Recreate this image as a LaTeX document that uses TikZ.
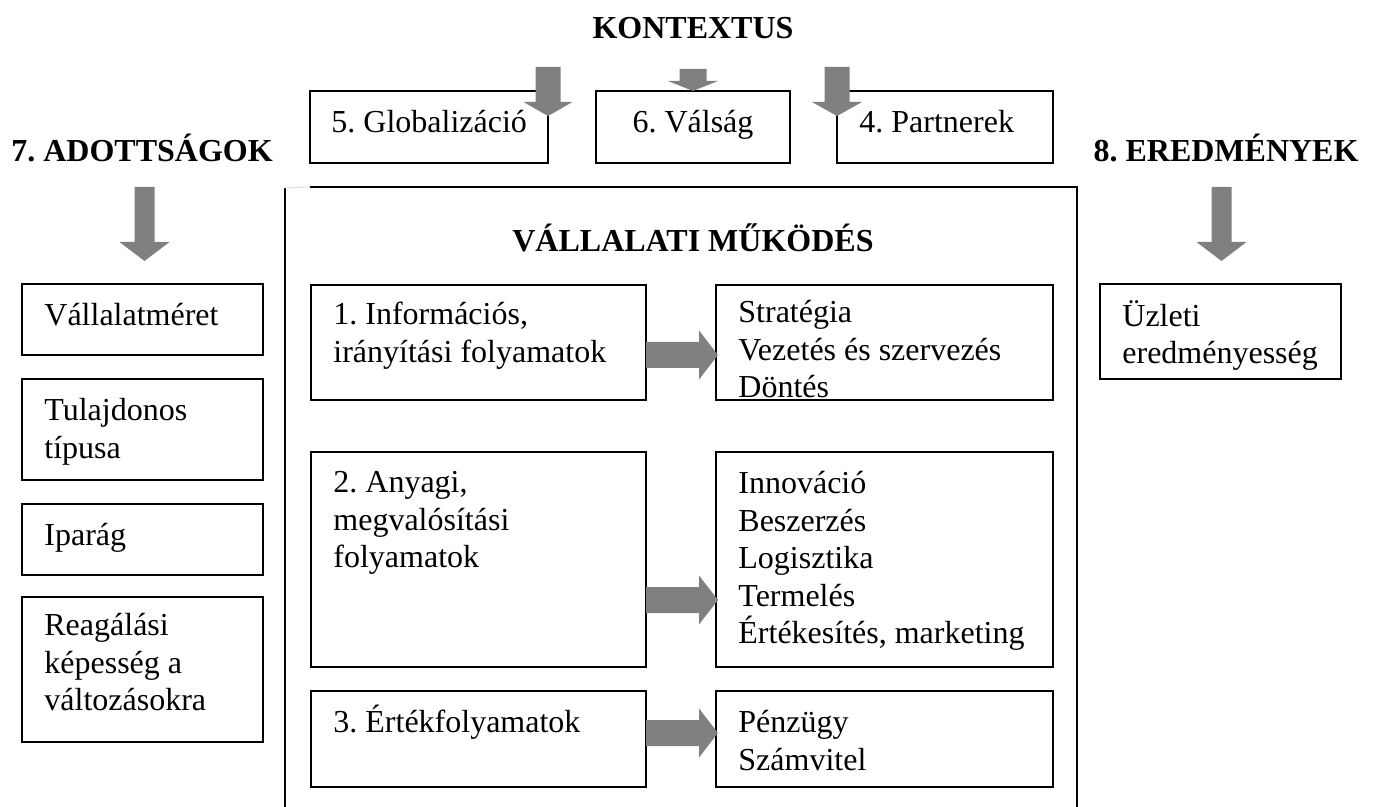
\documentclass[tikz,border=0pt]{standalone}
\usepackage{fontspec}
\setmainfont{Liberation Serif}
\frenchspacing
\usetikzlibrary{positioning, calc}
\newcommand{\tstrut}{\rule{0pt}{14pt}}
\tikzset{%
	box/.style={draw, rectangle, line width=0.8pt, inner sep=0pt, outer sep=0pt, anchor=north west},
	boxtext/.style={anchor=north west, inner sep=0pt, align=left, font=\fontsize{16}{18.75}\selectfont,
		execute at begin node=\tstrut},
	head/.style={anchor=base, inner sep=0pt, font=\fontsize{16}{18.75}\selectfont\bfseries},
	fat/.style={fill=gray, draw=none},
	frame/.style={line width=0.8pt}
}
% fat arrow pointing down: tip, length, shaft half width, head half width, head length
\newcommand{\downfat}[5]{%
	\fill[fat] (#1) -- ++(#4,-#5) -- ++({#3-#4},0) -- ++(0,{#5-#2}) -- ++({-2*#3},0)
		-- ++(0,{#2-#5}) -- ++({#3-#4},0) -- cycle;}
% fat arrow pointing right: tail, length, shaft half width, head half width, head length
\newcommand{\rightfat}[5]{%
	\fill[fat] (#1) ++(0,-#3) -- ++({#2-#5},0) -- ++(0,{#3-#4}) -- ++(#5,#4) -- ++(-#5,#4)
		-- ++(0,{#3-#4}) -- ++({#5-#2},0) -- cycle;}

\begin{document}
\begin{tikzpicture}[x=0.5pt, y=-0.5pt]
	\useasboundingbox (0,0) rectangle (1375,807);

	% headings
	\node[head] (kontextus) at (693,39) {KONTEXTUS};
	\node[head] (adott) at (142,162) {7. ADOTTSÁGOK};
	\node[head] (eredm) at (1226,162) {8. EREDMÉNYEK};
	\node[head] (mukodes) at (693,252) {VÁLLALATI MŰKÖDÉS};

	% context
	\node[box, minimum width=119pt, minimum height=36pt] (glob) at (310,91) {};
	\node[box, minimum width=97pt, minimum height=36pt, right=24pt of glob] (valsag) {};
	\node[box, minimum width=108pt, minimum height=36pt, right=23.5pt of valsag] (partner) {};
	\node[boxtext] (glob-t) at ([shift={(21,13)}]glob.north west) {5. Globalizáció};
	\node[boxtext, anchor=north] (valsag-t) at ([shift={(0,13)}]valsag.north) {6. Válság};
	\node[boxtext] (partner-t) at ([shift={(22,13)}]partner.north west) {4. Partnerek};

	% givens
	\node[box, minimum width=120.5pt, minimum height=35.5pt] (meret) at (22,284) {};
	\node[box, minimum width=120.5pt, minimum height=50.5pt, below=12pt of meret.south west, anchor=north west] (tulaj) {};
	\node[box, minimum width=120.5pt, minimum height=35.5pt, below=12pt of tulaj.south west, anchor=north west] (iparag) {};
	\node[box, minimum width=120.5pt, minimum height=72.5pt, below=11pt of iparag.south west, anchor=north west] (reag) {};
	\node[boxtext] (meret-t) at ([shift={(22,13)}]meret.north west) {Vállalatméret};
	\node[boxtext] (tulaj-t) at ([shift={(22,19)}]tulaj.north west) {Tulajdonos\\típusa};
	\node[boxtext] (iparag-t) at ([shift={(22,13)}]iparag.north west) {Iparág};
	\node[boxtext] (reag-t) at ([shift={(22,16)}]reag.north west) {Reagálási\\képesség a\\változásokra};

	% results
	\node[box, minimum width=120.5pt, minimum height=47.5pt] (uzleti) at (1100,284) {};
	\node[boxtext] (uzleti-t) at ([shift={(22,16)}]uzleti.north west) {Üzleti\\eredményesség};

	% operation
	\coordinate (fr-lb) at (285,807);
	\coordinate (fr-lt) at (285,188);
	\coordinate (fr-tl) at (310,187);
	\coordinate (fr-rt) at (1077,187);
	\coordinate (fr-rb) at (1077,807);
	\draw[frame] (fr-lb) -- (fr-lt);
	\draw[gray!25, line width=0.5pt] (fr-lt) -- (fr-tl);
	\draw[frame] (fr-tl) -- (fr-rt) -- (fr-rb);

	\node[box, minimum width=167.5pt, minimum height=57.5pt] (info) at (311,285) {};
	\node[box, minimum width=167.5pt, minimum height=107.5pt, below=26pt of info.south west, anchor=north west] (anyagi) {};
	\node[box, minimum width=167.5pt, minimum height=48pt, below=12pt of anyagi.south west, anchor=north west] (ertek) {};
	\node[box, minimum width=168.5pt, minimum height=57.5pt, right=35pt of info.north east, anchor=north west] (strat) {};
	\node[box, minimum width=168.5pt, minimum height=107.5pt, right=35pt of anyagi.north east, anchor=north west] (innov) {};
	\node[box, minimum width=168.5pt, minimum height=48pt, right=35pt of ertek.north east, anchor=north west] (penz) {};

	\node[boxtext] (info-t) at ([shift={(22,17)}]info.north west) {1. Információs,\\irányítási folyamatok};
	\node[boxtext] (anyagi-t) at ([shift={(22,19)}]anyagi.north west) {2. Anyagi,\\megvalósítási\\folyamatok};
	\node[boxtext] (ertek-t) at ([shift={(22,13)}]ertek.north west) {3. Értékfolyamatok};
	\node[boxtext] (strat-t) at ([shift={(22,15)}]strat.north west) {Stratégia\\Vezetés és szervezés\\Döntés};
	\node[boxtext] (innov-t) at ([shift={(22,19)}]innov.north west) {Innováció\\Beszerzés\\Logisztika\\Termelés\\Értékesítés, marketing};
	\node[boxtext] (penz-t) at ([shift={(22,19)}]penz.north west) {Pénzügy\\Számvitel};

	% arrows
	\downfat{[shift={(0,25)}]glob.north east}{49}{12.5}{24.5}{14}
	\downfat{valsag.north}{22}{13.5}{25}{10}
	\downfat{[shift={(0,25)}]partner.north west}{49}{12.5}{25}{14}
	\downfat{[shift={(2,-23)}]meret.north}{74}{10}{25}{19}
	\downfat{[shift={(1,-23)}]uzleti.north}{74}{10}{25}{19}
	\rightfat{[shift={(0,70)}]info.north east}{72}{13}{24.5}{19}
	\rightfat{[shift={(0,148)}]anyagi.north east}{72}{13}{24.5}{19}
	\rightfat{[shift={(0,42)}]ertek.north east}{72}{13}{24.5}{19}
\end{tikzpicture}
\end{document}
